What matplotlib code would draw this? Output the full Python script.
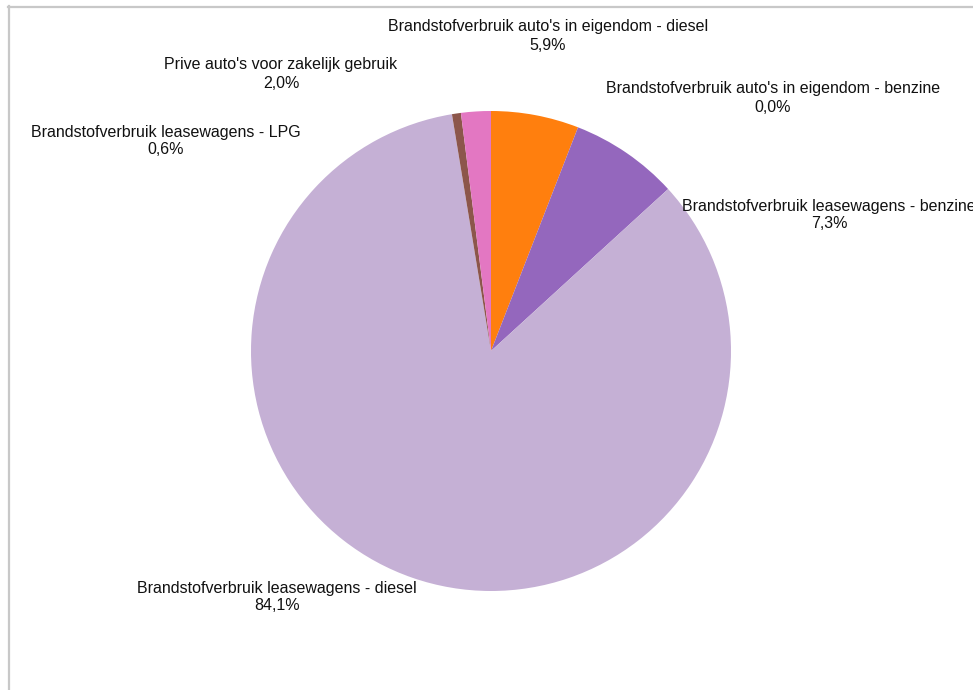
import matplotlib
matplotlib.use("Agg")
import matplotlib.pyplot as plt
from matplotlib.lines import Line2D

plt.rcParams['font.family'] = ['Liberation Sans', 'DejaVu Sans']

categories = [
    "Brandstofverbruik auto's in eigendom - diesel",
    "Brandstofverbruik auto's in eigendom - benzine",
    "Brandstofverbruik leasewagens - benzine",
    "Brandstofverbruik leasewagens - diesel",
    "Brandstofverbruik leasewagens - LPG",
    "Prive auto's voor zakelijk gebruik",
]
shares = [5.9, 0.0, 7.3, 84.1, 0.6, 2.0]
colors = ["#ff7f0e", "#2ca02c", "#9467bd", "#c5b0d5", "#8c564b", "#e377c2"]

# label anchor points (pixel coordinates, origin top-left)
label_xy = [(548, 26), (773, 88), (829, 205), (277, 587), (166, 131), (281, 64)]

W, H = 973, 690
fig = plt.figure(figsize=(W / 100, H / 100), dpi=100)
ax = fig.add_axes([0, 0, 1, 1])
ax.set_xlim(0, W)
ax.set_ylim(0, H)
ax.set_aspect('equal')
ax.axis('off')

cx, cy, r = 491, H - 351, 240
ax.pie(shares, colors=colors, startangle=90, counterclock=False,
       center=(cx, cy), radius=r, normalize=True,
       wedgeprops=dict(linewidth=0))
ax.set_xlim(0, W)
ax.set_ylim(0, H)

for name, val, (px, py) in zip(categories, shares, label_xy):
    txt = f"{name}\n{val:.1f}%".replace('.', ',')
    ax.text(px, H - py - 10, txt, ha='center', va='center', fontsize=11.5,
            linespacing=1.25, color='#111111', clip_on=False)

# chart frame
fig.add_artist(Line2D([8.5 / W, 8.5 / W], [0, 1 - 6 / H], transform=fig.transFigure,
                      color='#c8c8c8', linewidth=1.6))
fig.add_artist(Line2D([8 / W, 1], [1 - 6.5 / H, 1 - 6.5 / H], transform=fig.transFigure,
                      color='#c8c8c8', linewidth=1.6))

fig.savefig("out.png", dpi=100)
